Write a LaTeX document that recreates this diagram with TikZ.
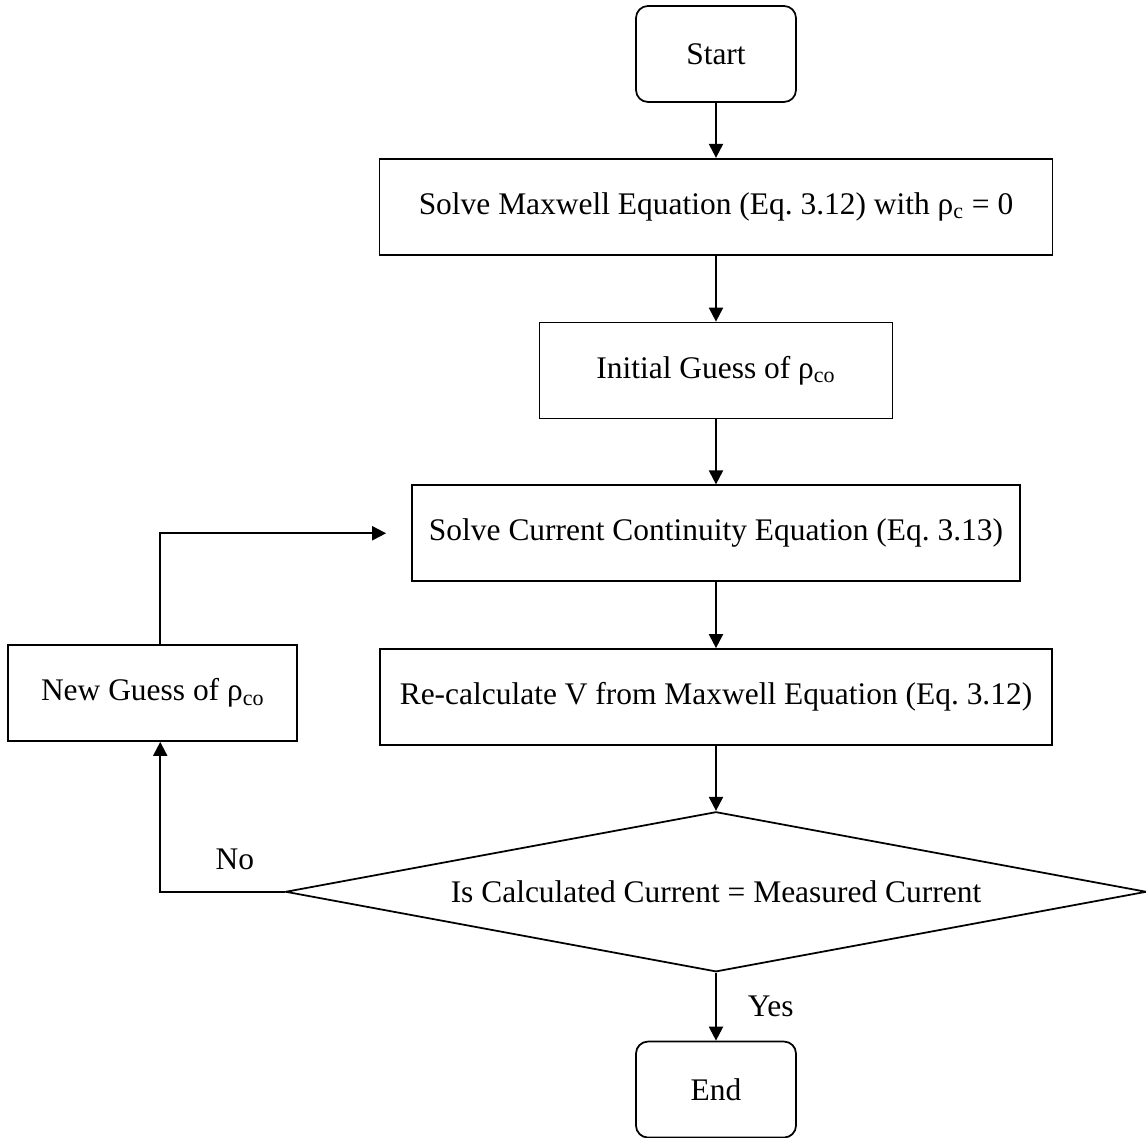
\documentclass[tikz,border=0pt]{standalone}
\usepackage{fontspec}
\setmainfont{Liberation Serif}
\usetikzlibrary{shapes.geometric, arrows.meta, positioning}

\begin{document}
\begin{tikzpicture}[
    node distance=1.32cm,
    font=\fontsize{17.9}{21.5}\selectfont,
    terminal/.style={rectangle, rounded corners=0.24cm, draw, line width=1pt, minimum width=3.2cm, minimum height=1.92cm},
    process/.style={rectangle, draw, line width=1pt, minimum height=1.92cm},
    decision/.style={diamond, draw, line width=1pt, aspect=5.38, inner sep=0pt, minimum width=17.22cm, minimum height=3.2cm},
    arrow/.style={line width=1.2pt, -{Triangle[length=0.28cm, width=0.28cm]}}
]
    \useasboundingbox (-14.32,1.08) rectangle (8.6,-21.68);

    \node[terminal] (start) {Start};
    \node[process, below=1.1cm of start, minimum width=13.46cm] (maxwell) {Solve Maxwell Equation (Eq.~3.12) with ρ\textsubscript{c} = 0};
    \node[process, below=of maxwell, minimum width=7.06cm] (guess) {Initial Guess of ρ\textsubscript{co}};
    \node[process, below=1.3cm of guess, minimum width=12.16cm] (continuity) {Solve Current Continuity Equation (Eq.~3.13)};
    \node[process, below=of continuity, minimum width=13.44cm] (recalc) {Re-calculate V from Maxwell Equation (Eq.~3.12)};
    \node[decision, below=1.3cm of recalc] (check) {Is Calculated Current = Measured Current};
    \node[terminal, below=1.36cm of check] (end) {End};
    \node[process, left=1.62cm of recalc, yshift=0.08cm, minimum width=5.78cm] (newguess) {New Guess of ρ\textsubscript{co}};
    \coordinate[left=0.5cm of continuity] (loopin);

    % Arrows
    \draw[arrow] (start) -- (maxwell);
    \draw[arrow] (maxwell) -- (guess);
    \draw[arrow] (guess) -- (continuity);
    \draw[arrow] (continuity) -- (recalc);
    \draw[arrow] (recalc) -- (check);
    \draw[arrow] (check) -- node[right=0.5cm] {Yes} (end);
    \draw[arrow] (check.west) -| node[pos=0.2, above=0.3cm] {No} ([xshift=0.15cm]newguess.south);
    \draw[arrow] ([xshift=0.15cm]newguess.north) |- (loopin);
\end{tikzpicture}
\end{document}
